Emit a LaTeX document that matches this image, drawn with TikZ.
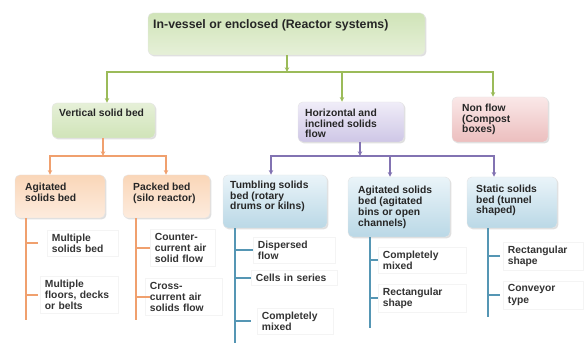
\documentclass[tikz,border=0pt]{standalone}
\usepackage{fontspec}
\setmainfont{Liberation Sans}
\usetikzlibrary{shadows,arrows.meta}
\usepackage{xcolor}

\definecolor{glink}{RGB}{155,187,89}
\definecolor{olink}{RGB}{240,160,110}
\definecolor{plink}{RGB}{130,115,178}
\definecolor{blink}{RGB}{85,150,180}
\definecolor{gtop}{RGB}{208,228,184}
\definecolor{gbot}{RGB}{230,240,216}
\definecolor{ptop}{RGB}{240,237,248}
\definecolor{pbot}{RGB}{206,198,230}
\definecolor{rtop}{RGB}{250,232,232}
\definecolor{rbot}{RGB}{236,190,190}
\definecolor{otop}{RGB}{250,214,184}
\definecolor{obot}{RGB}{253,236,222}
\definecolor{btop}{RGB}{234,244,249}
\definecolor{bbot}{RGB}{186,216,230}

\begin{document}
\begin{tikzpicture}[x=0.03cm,y=-0.03cm,
  card/.style={rounded corners=4pt,draw=gray!20,
    drop shadow={opacity=0.25,shadow xshift=1.2pt,shadow yshift=-1.2pt}},
  cardtext/.style={anchor=north west,inner sep=0pt,align=left,text=black!85,
    font=\fontsize{8.8}{9}\selectfont\bfseries},
  leaf/.style={anchor=west,draw=gray!9,inner xsep=4pt,inner ysep=3pt,
    align=left,text=black!80,font=\fontsize{8.8}{9.5}\selectfont\bfseries,
    text width=#1},
  link/.style={line width=1.2pt},
  arr/.style={-{Stealth[length=4pt,width=3.8pt]}}
]
\def\px{0.03cm}

% Frame
\useasboundingbox (0,0) rectangle (584,343);

% Top level
\node[card,top color=gtop,bottom color=gbot,minimum width=277*\px,minimum height=42*\px] (reactor) at (286.5,34) {};
\node[cardtext,font=\fontsize{10.5}{12}\selectfont\bfseries] (reactorT) at (153,19.5) {In-vessel or enclosed (Reactor systems)};

% Second level
\node[card,top color=gbot,bottom color=gtop,minimum width=103*\px,minimum height=35*\px] (vert) at (103.5,120.5) {};
\node[cardtext] (vertT) at (59,109) {Vertical solid bed};

\node[card,top color=ptop,bottom color=pbot,minimum width=106*\px,minimum height=40*\px] (horiz) at (351,122) {};
\node[cardtext] (horizT) at (305,109) {Horizontal and\\inclined solids\\flow};

\node[card,top color=rtop,bottom color=rbot,minimum width=96*\px,minimum height=45*\px] (nonflow) at (500,119.5) {};
\node[cardtext] (nonflowT) at (462,104) {Non flow\\(Compost\\boxes)};

% Third level, vertical beds
\node[card,top color=otop,bottom color=obot,minimum width=90*\px,minimum height=43*\px] (agit) at (60,196.5) {};
\node[cardtext] (agitT) at (25,183) {Agitated\\solids bed};

\node[card,top color=otop,bottom color=obot,minimum width=87*\px,minimum height=43*\px] (packed) at (166.5,196.5) {};
\node[cardtext] (packedT) at (133,183) {Packed bed\\(silo reactor)};

% Third level, horizontal beds
\node[card,top color=btop,bottom color=bbot,minimum width=104*\px,minimum height=53*\px] (tumb) at (275,201.5) {};
\node[cardtext] (tumbT) at (230,181) {Tumbling solids\\bed (rotary\\drums or kilns)};

\node[card,top color=btop,bottom color=bbot,minimum width=102*\px,minimum height=60*\px] (agitb) at (399,207) {};
\node[cardtext,font=\fontsize{8.8}{8}\selectfont\bfseries] (agitbT) at (358,186) {Agitated solids\\bed (agitated\\bins or open\\channels)};

\node[card,top color=btop,bottom color=bbot,minimum width=90*\px,minimum height=51*\px] (static) at (512,202.5) {};
\node[cardtext] (staticT) at (476,185) {Static solids\\bed (tunnel\\shaped)};

% Leaves
\node[leaf=52.6pt] (msb) at (47,243) {Multiple\\solids bed};
\node[leaf=58.6pt] (mfd) at (40,295) {Multiple\\floors, decks\\or belts};
\node[leaf=47.5pt] (cca) at (150,248) {Counter-\\current air\\solid flow};
\node[leaf=57.7pt] (xca) at (145,297) {Cross-\\current air\\solids flow};
\node[leaf=62pt] (dfl) at (253,250) {Dispersed\\flow};
\node[leaf=65.4pt] (cis) at (251,278) {Cells in series};
\node[leaf=56.9pt] (cma) at (257,321) {Completely\\mixed};
\node[leaf=67.1pt] (cmb) at (378,260) {Completely\\mixed};
\node[leaf=67.1pt] (rsa) at (378,298) {Rectangular\\shape};
\node[leaf=60.3pt] (rsb) at (503,256) {Rectangular\\shape};
\node[leaf=60.3pt] (cvt) at (503,295) {Conveyor\\type};

% Green branch
\def\gbus{72}
\coordinate (gJ) at (287,\gbus);
\coordinate (gL) at (107,\gbus);
\coordinate (gM) at (342,\gbus);
\coordinate (gR) at (493,\gbus);
\draw[link,glink,arr] (reactor.south -| gJ) -- (gJ);
\draw[link,glink,arr] (gJ) -| (gL |- vert.north);
\draw[link,glink,arr] (gJ) -| (gR |- nonflow.north);
\draw[link,glink,arr] (gM) -- (gM |- horiz.north);

% Orange branch
\def\obus{156}
\coordinate (oJ) at (103,\obus);
\coordinate (oL) at (50,\obus);
\coordinate (oR) at (166,\obus);
\draw[link,olink,arr] (vert.south -| oJ) -- (oJ);
\draw[link,olink,arr] (oJ) -| (oL |- agit.north);
\draw[link,olink,arr] (oJ) -| (oR |- packed.north);

% Purple branch
\def\pbus{156}
\coordinate (pJ) at (360,\pbus);
\coordinate (pL) at (271,\pbus);
\coordinate (pM) at (390,\pbus);
\coordinate (pR) at (494,\pbus);
\draw[link,plink,arr] (horiz.south -| pJ) -- (pJ);
\draw[link,plink,arr] (pJ) -| (pL |- tumb.north);
\draw[link,plink,arr] (pJ) -| (pR |- static.north);
\draw[link,plink,arr] (pM) -- (pM |- agitb.north);

% Stems and ticks
\coordinate (s1) at (26,320);
\coordinate (s2) at (136,320);
\coordinate (s3) at (235,343);
\coordinate (s4) at (370,328);
\coordinate (s5) at (488,317);

\draw[link,olink] (s1 |- agit.south) -- (s1);
\draw[link,olink] (msb.west -| s1) -- ++(12,0);
\draw[link,olink] (mfd.west -| s1) -- ++(12,0);

\draw[link,olink] (s2 |- packed.south) -- (s2);
\draw[link,olink] (cca.west -| s2) -- ++(14,0);
\draw[link,olink] (xca.west -| s2) -- ++(14,0);

\draw[link,blink] (s3 |- tumb.south) -- (s3);
\draw[link,blink] (dfl.west -| s3) -- (dfl.west);
\draw[link,blink] (cis.west -| s3) -- (cis.west);
\draw[link,blink] (cma.west -| s3) -- ++(16,0);

\draw[link,blink] (s4 |- agitb.south) -- (s4);
\draw[link,blink] (cmb.west -| s4) -- (cmb.west);
\draw[link,blink] (rsa.west -| s4) -- (rsa.west);

\draw[link,blink] (s5 |- static.south) -- (s5);
\draw[link,blink] (rsb.west -| s5) -- ++(12,0);
\draw[link,blink] (cvt.west -| s5) -- ++(12,0);

\end{tikzpicture}
\end{document}
